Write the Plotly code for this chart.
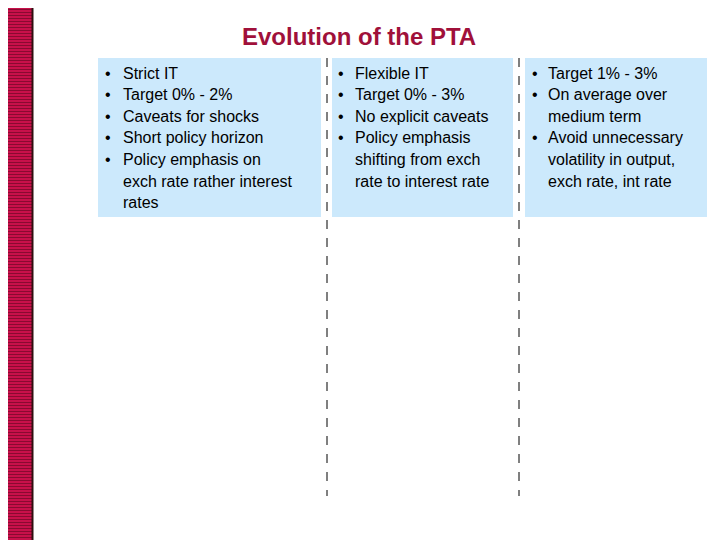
import plotly.graph_objects as go

title = "Evolution of the PTA"
col1 = [("•", "Strict IT"), ("•", "Target 0% - 2%"), ("•", "Caveats for shocks"),
        ("•", "Short policy horizon"), ("•", "Policy emphasis on"),
        ("", "exch rate rather interest"), ("", "rates")]
col2 = [("•", "Flexible IT"), ("•", "Target 0% - 3%"), ("•", "No explicit caveats"),
        ("•", "Policy emphasis"), ("", "shifting from exch"), ("", "rate to interest rate")]
col3 = [("•", "Target 1% - 3%"), ("•", "On average over"), ("", "medium term"),
        ("•", "Avoid unnecessary"), ("", "volatility in output,"), ("", "exch rate, int rate")]

fig = go.Figure()
shapes = []
# left stripe band
shapes.append(dict(type="rect", x0=0, x1=33, y0=0, y1=540, fillcolor="#c8104a", line_width=0, layer="below"))
for i in range(0, 540, 3):
    shapes.append(dict(type="line", x0=0, x1=32, y0=i + 0.5, y1=i + 0.5, line=dict(color="#8a0a30", width=1)))
shapes.append(dict(type="line", x0=32.5, x1=32.5, y0=0, y1=540, line=dict(color="#301010", width=2)))
# boxes
for x0, x1 in [(98, 321), (332, 513), (525, 707)]:
    shapes.append(dict(type="rect", x0=x0, x1=x1, y0=58, y1=217, fillcolor="#cce9fc", line_width=0, layer="below"))
for x in [327, 519]:
    shapes.append(dict(type="line", x0=x, x1=x, y0=58, y1=496, line=dict(color="black", width=1, dash="dash")))

ann = [dict(x=359, y=36, text="<b>" + title + "</b>", showarrow=False,
            font=dict(size=24, color="#a0103a"), xanchor="center", yanchor="middle")]
for col, bx, tx in [(col1, 108, 121), (col2, 341, 353), (col3, 535, 546)]:
    for i, (b, t) in enumerate(col):
        y = 73 + i * 21.6
        if b:
            ann.append(dict(x=bx, y=y, text=b, showarrow=False, xanchor="center", yanchor="middle",
                            font=dict(size=16, color="black")))
        ann.append(dict(x=tx, y=y, text=t, showarrow=False, xanchor="left", yanchor="middle",
                        font=dict(size=16, color="black")))

fig.update_layout(width=712, height=532, margin=dict(l=0, r=0, t=0, b=0),
                  paper_bgcolor="white", plot_bgcolor="white",
                  xaxis=dict(range=[8, 720], visible=False, fixedrange=True),
                  yaxis=dict(range=[540, 8], visible=False, fixedrange=True),
                  shapes=shapes, annotations=ann,
                  font=dict(family="Liberation Sans, Arial, sans-serif"), showlegend=False)
fig.write_html("out.html")
